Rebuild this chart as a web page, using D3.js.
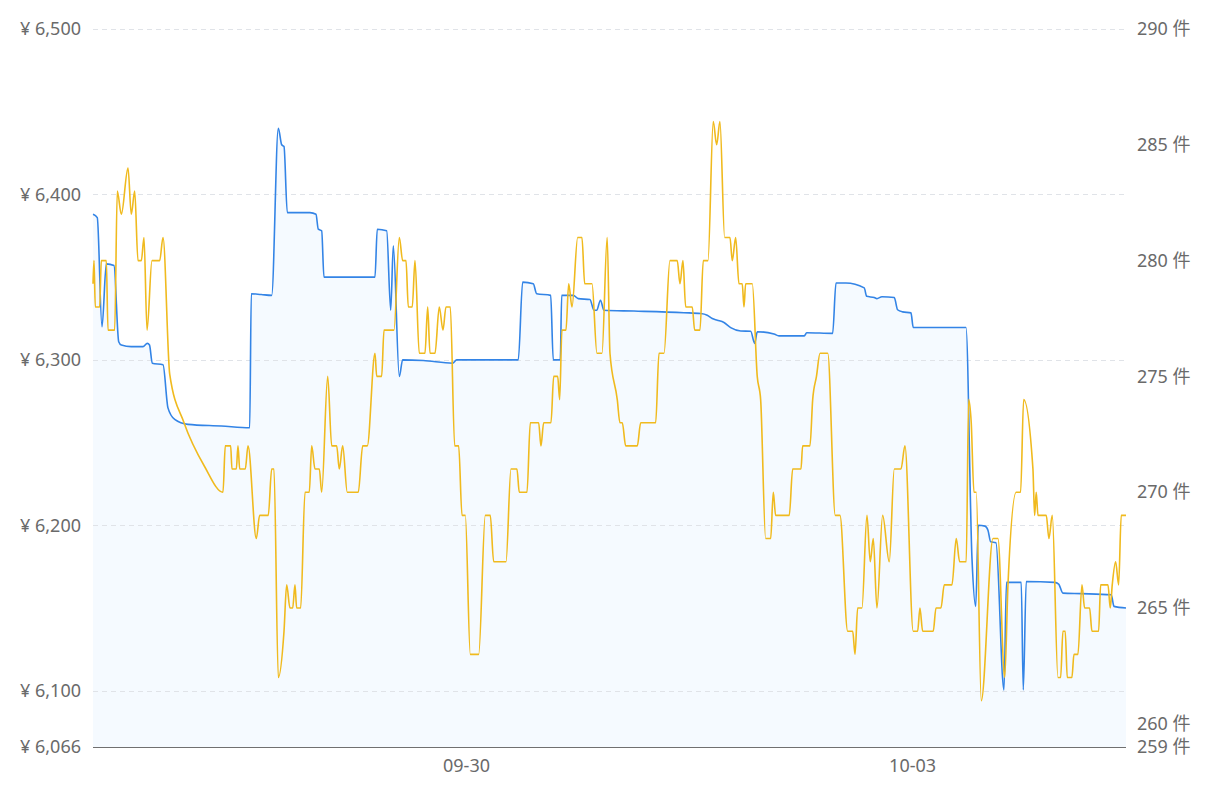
<!DOCTYPE html>
<html><head><meta charset="utf-8">
<script src="https://cdn.jsdelivr.net/npm/d3@7"></script>
<style>
body{margin:0;background:#fff;}
svg{display:block;font-family:"Noto Sans","Noto Sans CJK SC",sans-serif;}
</style>
</head><body>
<svg id="chart" width="1224" height="789"></svg>
<script>
// ---- data ----
const startTime = "2024-09-27T11:48:00";
const spanHours = 166.73;

// price series (¥): hour offset from start, value
const priceHours = [0.00,0.69,1.45,2.15,3.39,4.15,4.57,6.18,8.07,8.76,9.12,9.57,11.30,12.10,13.19,15.33,20.71,25.29,25.55,27.16,28.84,29.91,30.46,30.83,31.36,35.02,35.99,36.36,36.91,37.28,45.51,45.88,47.40,48.05,48.47,49.44,49.98,53.31,58.05,58.70,68.64,69.35,71.06,71.61,73.87,74.29,75.42,75.65,77.52,78.33,80.21,80.86,81.29,81.91,82.47,87.31,95.38,98.08,99.14,99.95,100.76,101.84,102.92,104.54,106.15,106.80,107.22,109.91,110.72,114.80,115.19,119.38,119.92,121.53,124.48,124.87,126.10,126.53,127.34,129.33,129.86,130.67,132.02,132.39,140.90,141.87,142.47,142.89,143.97,144.45,144.89,145.74,147.03,147.44,149.82,150.15,150.63,155.21,155.86,156.55,159.51,164.35,164.79,166.73];
const priceValues = [6388,6386,6320,6358,6357,6311,6309,6308,6308,6310,6309,6298,6297,6271,6264,6261,6260,6259,6340,6339.5,6339,6440,6430,6429,6389,6389,6388,6379,6378,6350,6350,6379,6378,6330,6369,6290,6300,6299.6,6298,6300,6300,6347,6346,6340,6339,6300,6300,6339,6339,6337,6336.5,6330,6330,6336,6330,6329.5,6328.5,6328,6327,6325,6324,6322.6,6319.5,6317.5,6317.3,6310,6317,6315.7,6314.5,6314.5,6316.4,6316,6346.5,6346.5,6343.5,6338.4,6337.7,6337,6338.2,6337.7,6330.3,6329,6328.4,6319.6,6319.6,6180,6151,6200,6199.5,6197,6190,6189.5,6100.5,6165.5,6165.5,6100.5,6166,6165.5,6164.5,6159,6158.7,6158,6151,6150];

// count series (件): hour offset from start, value
const countHours = [0.00,0.16,0.37,1.08,1.34,2.15,2.42,3.50,3.92,4.57,5.65,6.18,6.73,7.26,7.80,8.23,8.72,9.52,10.76,11.30,12.38,14.69,18.03,20.98,21.35,22.22,22.43,23.13,23.40,23.68,24.58,25.02,26.36,26.90,28.29,28.84,29.21,29.91,30.83,31.26,31.79,32.23,32.60,32.87,33.52,34.22,34.91,35.30,35.83,36.53,36.91,37.88,38.53,39.33,39.75,40.30,41.04,42.82,43.53,44.27,45.51,45.79,46.59,46.97,48.58,49.44,49.98,50.52,50.89,51.53,51.97,52.66,53.58,54.02,54.39,55.20,55.89,56.49,56.97,57.67,58.38,59.02,59.56,60.09,60.90,62.25,63.32,64.12,64.67,66.66,67.46,68.43,68.80,70.05,70.58,71.93,72.30,72.74,73.92,74.36,75.00,75.32,75.69,76.34,76.78,77.31,78.23,78.92,79.36,80.54,81.34,82.15,82.99,83.44,84.62,85.05,85.43,85.98,87.85,88.40,90.82,91.35,92.16,93.12,94.30,94.74,95.22,95.66,96.72,97.11,97.97,98.50,99.26,100.11,100.66,101.19,101.95,102.81,103.18,103.73,104.26,104.79,105.07,105.34,106.41,107.21,107.76,108.57,109.38,109.80,110.18,112.38,112.93,114.27,114.54,115.72,116.16,116.77,117.35,118.59,119.81,120.56,121.81,122.62,122.99,123.42,124.11,124.92,125.45,125.94,126.53,127.45,128.52,129.33,130.41,131.05,132.39,133.10,133.47,133.91,135.62,136.06,136.86,137.40,138.64,139.33,139.88,140.94,141.33,141.75,142.19,142.56,143.37,145.26,146.06,147.15,147.68,149.01,149.72,150.21,151.71,151.98,152.24,152.52,153.86,154.29,154.83,155.75,156.18,156.55,156.92,157.25,158.00,158.33,158.97,159.62,160.05,160.86,161.23,162.31,162.64,163.82,164.19,164.51,165.06,165.54,165.96,166.73];
const countValues = [279,280,278,278,280,280,277,277,283,282,284,282,283,280,280,281,277,280,280,281,275.1,273.0,271.1,270,272,272,271,271,272,271,271,272,268,269,269,271,271,262,264,266,265,265,266,265,265,270,270,272,271,271,270,275,272,272,271,272,270,270,272,272,276,275,275,277,277,281,280,280,278,278,280,276,276,278,276,276,278,277,278,278,272,272,269,269,263,263,269,269,267,267,271,271,270,270,273,273,272,273,273,275,275,274,277,277,279,278,281,281,279,279,276,276,281,276,274,273,273,272,272,273,273,276,276,280,280,279,280,278,278,277,277,280,280,286,285,286,281,281,280,281,279,279,278,279,279,275,274,268,268,270,269,269,271,271,272,272,274,275,276,276,269,269,264,264,263,265,265,269,267,268,265,269,267,271,271,272,264,264,265,264,264,265,265,266,266,268,267,267,274,273,270,270,261,268,268,262,266,270,270,274,271,269,270,269,269,268,269,262,262,264,264,262,262,263,263,266,265,265,264,264,266,266,265,266,267,266,269,269];

const priceTicks = [6500,6400,6300,6200,6100,6066];
const countTicks = [290,285,280,275,270,265,260,259];
const dateTicks = ["2024-09-30T00:00:00","2024-10-03T00:00:00"];
const priceRange = [6066,6500];
const countRange = [259,290];

// ---- drawing ----
const M = {left:93, right:1126, top:29, bottom:747};
const svg = d3.select("#chart");

const t0 = new Date(startTime);
const toDate = h => new Date(t0.getTime() + h*3600e3);
const x = d3.scaleTime().domain([t0, toDate(spanHours)]).range([M.left, M.right]);
const yL = d3.scaleLinear().domain(priceRange).range([M.bottom, M.top]);
const yR = d3.scaleLinear().domain(countRange).range([M.bottom, M.top]);

const priceData = priceHours.map((h,i)=>({t:toDate(h), v:priceValues[i]}));
const countData = countHours.map((h,i)=>({t:toDate(h), v:countValues[i]}));

const curve = d3.curveMonotoneX;

// area under price
svg.append("path")
  .datum(priceData)
  .attr("fill", "rgba(20,140,255,0.045)")
  .attr("d", d3.area().x(d=>x(d.t)).y0(M.bottom).y1(d=>yL(d.v)).curve(curve));

// gridlines
svg.append("g").selectAll("line")
  .data(priceTicks.filter(d=>d!==priceRange[0]))
  .join("line")
  .attr("x1", M.left).attr("x2", M.right)
  .attr("y1", d=>Math.round(yL(d))+0.5).attr("y2", d=>Math.round(yL(d))+0.5)
  .attr("stroke", "#e0e3e8").attr("stroke-width", 1)
  .attr("stroke-dasharray", "5,4");

// price line
svg.append("path")
  .datum(priceData)
  .attr("fill","none")
  .attr("stroke","#3384e6")
  .attr("stroke-width",1.6)
  .attr("stroke-linejoin","round")
  .attr("d", d3.line().x(d=>x(d.t)).y(d=>yL(d.v)).curve(curve));

// count line
svg.append("path")
  .datum(countData)
  .attr("fill","none")
  .attr("stroke","#f0ba1e")
  .attr("stroke-width",1.6)
  .attr("stroke-linejoin","round")
  .attr("d", d3.line().x(d=>x(d.t)).y(d=>yR(d.v)).curve(curve));

// bottom axis line
svg.append("line")
  .attr("x1", M.left).attr("x2", M.right)
  .attr("y1", M.bottom+0.5).attr("y2", M.bottom+0.5)
  .attr("stroke","#707070").attr("stroke-width",1.2);

const labelColor = "#6a6a6a";
const fontSize = "18px";
const fontFam = '"Noto Sans","Noto Sans CJK SC",sans-serif';

// left axis
const gL = svg.append("g").attr("transform",`translate(${M.left},0)`)
  .call(d3.axisLeft(yL).tickValues(priceTicks).tickSize(0).tickPadding(12)
    .tickFormat(d=>"¥ " + d3.format(",")(d)));
gL.select(".domain").remove();
gL.selectAll("text").attr("fill",labelColor).style("font-size",fontSize).style("font-family",fontFam);

// right axis
const gR = svg.append("g").attr("transform",`translate(${M.right},0)`)
  .call(d3.axisRight(yR).tickValues(countTicks).tickSize(0).tickPadding(11)
    .tickFormat(d=>d + " 件"));
gR.select(".domain").remove();
gR.selectAll("text").attr("fill",labelColor).style("font-size",fontSize).style("font-family",fontFam);

// bottom axis labels
const gB = svg.append("g").attr("transform",`translate(0,${M.bottom})`)
  .call(d3.axisBottom(x).tickValues(dateTicks.map(s=>new Date(s))).tickSize(0).tickPadding(12)
    .tickFormat(d3.timeFormat("%m-%d")));
gB.select(".domain").remove();
gB.selectAll("text").attr("fill",labelColor).style("font-size",fontSize).style("font-family",fontFam);
</script>
</body></html>
